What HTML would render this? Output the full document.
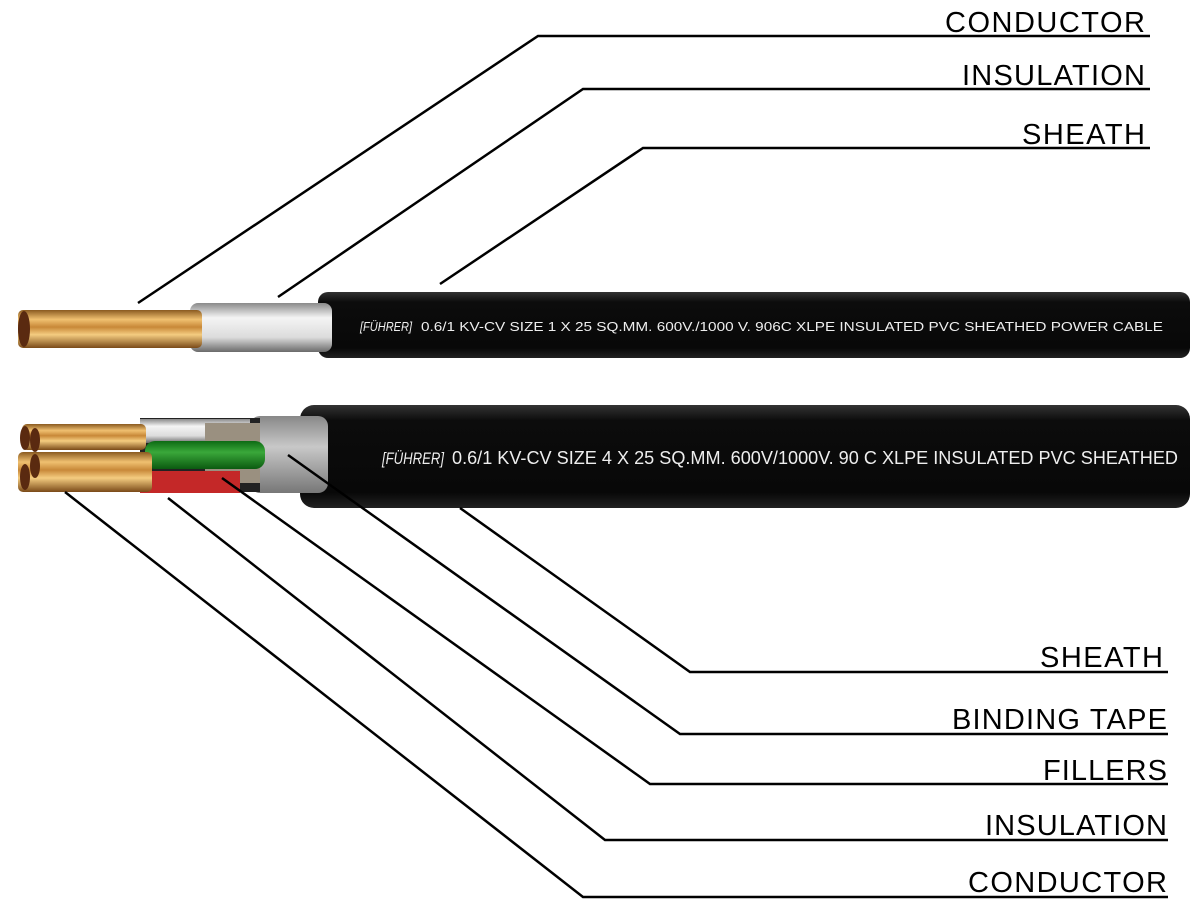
<!DOCTYPE html>
<html><head><meta charset="utf-8"><style>
html,body{margin:0;padding:0;background:#fff;}
svg{display:block;}
text{font-family:"Liberation Sans",sans-serif;}
</style></head><body>
<svg width="1200" height="912" viewBox="0 0 1200 912" xmlns="http://www.w3.org/2000/svg">
<defs>
<linearGradient id="cu" x1="0" y1="0" x2="0" y2="1">
<stop offset="0" stop-color="#8a5a20"/><stop offset="0.25" stop-color="#f0c070"/><stop offset="0.45" stop-color="#c88838"/><stop offset="0.65" stop-color="#f4cc80"/><stop offset="1" stop-color="#7a4a18"/>
</linearGradient>
<linearGradient id="wh" x1="0" y1="0" x2="0" y2="1">
<stop offset="0" stop-color="#8a8a8a"/><stop offset="0.3" stop-color="#f4f4f4"/><stop offset="0.7" stop-color="#dcdcdc"/><stop offset="1" stop-color="#6a6a6a"/>
</linearGradient>
<linearGradient id="bk" x1="0" y1="0" x2="0" y2="1">
<stop offset="0" stop-color="#333"/><stop offset="0.15" stop-color="#0c0c0c"/><stop offset="0.85" stop-color="#080808"/><stop offset="1" stop-color="#222"/>
</linearGradient>
<linearGradient id="gr" x1="0" y1="0" x2="0" y2="1">
<stop offset="0" stop-color="#0d6a14"/><stop offset="0.4" stop-color="#3aa83a"/><stop offset="1" stop-color="#0b5a10"/>
</linearGradient>
<linearGradient id="tp" x1="0" y1="0" x2="0" y2="1">
<stop offset="0" stop-color="#888"/><stop offset="0.4" stop-color="#c8c8c8"/><stop offset="1" stop-color="#777"/>
</linearGradient>
</defs>

<!-- Top cable -->
<rect x="318" y="292" width="872" height="66" rx="10" fill="url(#bk)"/>
<rect x="190" y="303" width="142" height="49" rx="8" fill="url(#wh)"/>
<rect x="18" y="310" width="184" height="38" rx="5" fill="url(#cu)"/>
<ellipse cx="24" cy="329" rx="6" ry="18" fill="#5a2a10"/>
<text x="360" y="331" font-size="13" fill="#eee" font-style="italic" textLength="52" lengthAdjust="spacingAndGlyphs">[FÜHRER]</text>
<text x="421" y="331" font-size="13" fill="#eee" textLength="742" lengthAdjust="spacingAndGlyphs">0.6/1 KV-CV  SIZE  1 X 25  SQ.MM.  600V./1000 V.  906C  XLPE  INSULATED  PVC  SHEATHED  POWER CABLE</text>

<!-- Bottom cable -->
<rect x="300" y="405" width="890" height="103" rx="14" fill="url(#bk)"/>
<rect x="250" y="416" width="78" height="77" rx="10" fill="url(#tp)"/>
<rect x="140" y="418" width="120" height="74" fill="#222"/>
<rect x="140" y="419" width="110" height="24" fill="url(#wh)"/>
<rect x="205" y="423" width="55" height="60" fill="#9a9080"/>
<rect x="140" y="471" width="100" height="22" fill="#c42828"/>
<rect x="145" y="441" width="120" height="28" rx="10" fill="url(#gr)"/>
<rect x="22" y="424" width="124" height="26" rx="5" fill="url(#cu)"/>
<rect x="18" y="452" width="134" height="40" rx="5" fill="url(#cu)"/>
<ellipse cx="25" cy="438" rx="5" ry="12" fill="#5a2a10"/>
<ellipse cx="35" cy="440" rx="5" ry="12" fill="#5a2a10"/>
<ellipse cx="25" cy="477" rx="5" ry="13" fill="#5a2a10"/>
<ellipse cx="35" cy="466" rx="5" ry="12" fill="#5a2a10"/>
<text x="382" y="464" font-size="17" fill="#eee" font-style="italic" textLength="62" lengthAdjust="spacingAndGlyphs">[FÜHRER]</text>
<text x="452" y="464" font-size="18" fill="#eee" textLength="726" lengthAdjust="spacingAndGlyphs">0.6/1 KV-CV SIZE 4 X 25 SQ.MM. 600V/1000V. 90 C XLPE INSULATED PVC SHEATHED</text>

<!-- Leader lines -->
<g stroke="#000" stroke-width="2.5" fill="none">
<polyline points="138,303 538,36 1150,36"/>
<polyline points="278,297 583,89 1150,89"/>
<polyline points="440,284 643,148 1150,148"/>
<polyline points="460,508 690,672 1168,672"/>
<polyline points="288,455 680,734 1168,734"/>
<polyline points="222,478 650,784 1168,784"/>
<polyline points="168,498 605,840 1168,840"/>
<polyline points="65,492 583,897 1168,897"/>
</g>

<g font-size="29" fill="#000" lengthAdjust="spacingAndGlyphs">
<text x="945" y="32" textLength="200">CONDUCTOR</text>
<text x="962" y="85" textLength="183">INSULATION</text>
<text x="1022" y="144" textLength="123">SHEATH</text>
<text x="1040" y="667" textLength="123">SHEATH</text>
<text x="952" y="729" textLength="215">BINDING TAPE</text>
<text x="1043" y="780" textLength="124">FILLERS</text>
<text x="985" y="835" textLength="182">INSULATION</text>
<text x="968" y="892" textLength="199">CONDUCTOR</text>
</g>
</svg>
</body></html>
